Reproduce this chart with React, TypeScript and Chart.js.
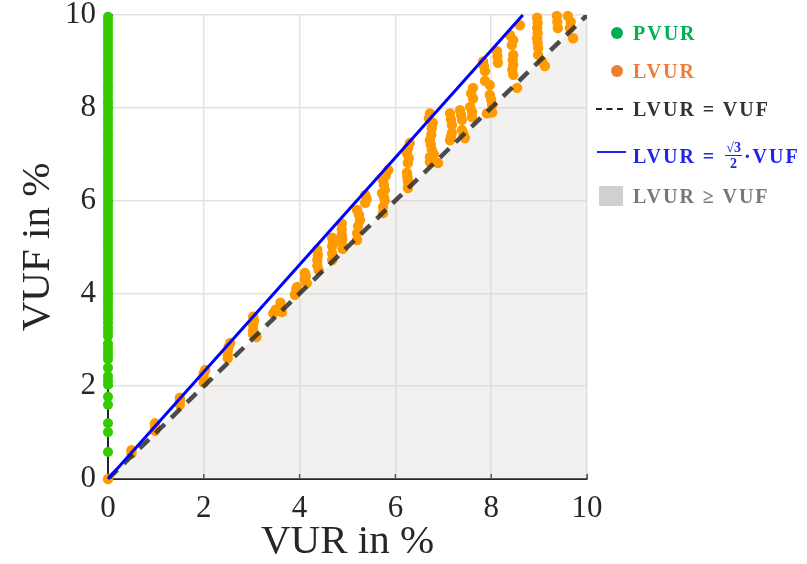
import React, { useEffect, useRef } from 'react';
import { Chart, registerables } from 'chart.js';

Chart.register(...registerables);

// ---------- data ----------
const X_TICKS = [0, 2, 4, 6, 8, 10];
const Y_TICKS = [0, 2, 4, 6, 8, 10];

// PVUR (VUR = 0) values of VUF in %
const pvurY = [
  0.58, 1.01, 1.2, 1.6, 1.77, 2.03, 2.12, 2.22, 2.4, 2.58, 2.66, 2.74, 2.83, 2.92,
  3.08, 3.17, 3.26, 3.36, 3.45, 3.52, 3.6, 3.68, 3.77, 3.85, 3.93, 4.02, 4.1, 4.19,
  4.27, 4.36, 4.44, 4.52, 4.61, 4.7, 4.78, 4.86, 4.95, 5.04, 5.12, 5.21, 5.29, 5.38,
  5.46, 5.55, 5.63, 5.72, 5.8, 5.89, 5.97, 6.06, 6.14, 6.23, 6.31, 6.4, 6.48, 6.57,
  6.65, 6.74, 6.82, 6.91, 6.99, 7.08, 7.16, 7.25, 7.33, 7.42, 7.5, 7.59, 7.67, 7.76,
  7.84, 7.93, 8.01, 8.1, 8.18, 8.27, 8.35, 8.44, 8.52, 8.61, 8.69, 8.78, 8.86, 8.95,
  9.03, 9.12, 9.2, 9.29, 9.37, 9.46, 9.54, 9.63, 9.71, 9.8, 9.88, 9.96,
];

// LVUR points: VUR (x) and VUF (y) in %
const lvurX = [
  0,
  0.49, 0.49,
  0.98, 0.98, 0.98,
  1.5, 1.5, 1.5,
  2.0, 2.0, 2.0, 2.03,
  2.5, 2.5, 2.5, 2.55, 2.52,
  3.03, 3.03, 3.03, 3.03, 3.1, 3.05,
  3.45, 3.6, 3.6, 3.63, 3.5,
  3.9, 3.95, 3.95, 3.93,
  4.11, 4.11, 4.15, 4.13,
  4.37, 4.37, 4.37, 4.4, 4.38,
  4.68, 4.68, 4.68, 4.68, 4.7,
  4.88, 4.88, 4.88, 4.9, 4.89, 4.88,
  5.2, 5.2, 5.22, 5.26, 5.2, 5.24,
  5.37, 5.37, 5.4,
  5.74, 5.74, 5.78, 5.72, 5.78, 5.74, 5.85, 5.76, 5.76, 5.8,
  6.26, 6.26, 6.24, 6.26, 6.24, 6.3, 6.27, 6.25, 6.28, 6.26,
  6.72, 6.72, 6.76, 6.72, 6.76, 6.72, 6.89, 6.8, 6.74, 6.75, 6.78, 6.7,
  7.14, 7.18, 7.18, 7.14, 7.16, 7.16,
  7.45, 7.39, 7.39, 7.35, 7.42, 7.37,
  7.6, 7.56, 7.62, 7.62, 7.6, 7.58,
  7.83, 7.87, 7.87, 7.85,
  7.91, 8.02, 8.02, 7.97, 7.97, 8.0,
  8.12, 8.14, 8.13,
  8.54, 8.46, 8.46, 8.46, 8.43, 8.39, 8.6, 8.44, 8.45, 8.46,
  9.12, 9.06, 8.98, 8.98, 8.96, 8.96, 8.96, 8.97, 8.97, 8.97,
  9.37, 9.39, 9.38,
  9.71, 9.64, 9.6, 9.66,
];
const lvurY = [
  0,
  0.55, 0.62,
  1.04, 1.12, 1.2,
  1.6, 1.68, 1.75,
  2.08, 2.17, 2.28, 2.35,
  2.6, 2.67, 2.76, 2.93, 2.85,
  3.12, 3.2, 3.32, 3.5, 3.06, 3.41,
  3.57, 3.7, 3.8, 3.6, 3.65,
  3.97, 4.06, 4.14, 4.1,
  4.3, 4.44, 4.22, 4.37,
  4.6, 4.72, 4.94, 4.5, 4.83,
  4.72, 4.86, 5.02, 5.2, 5.1,
  5.08, 5.26, 5.5, 4.96, 5.17, 5.38,
  5.15, 5.3, 5.45, 5.58, 5.8, 5.69,
  5.95, 6.12, 6.04,
  5.73, 5.86, 6.0, 6.16, 6.23, 6.44, 6.66, 6.08, 6.34, 6.54,
  6.27, 6.44, 6.6, 6.81, 7.02, 7.24, 6.36, 6.52, 6.92, 7.13,
  6.83, 6.94, 7.09, 7.3, 7.56, 7.88, 6.81, 7.0, 7.2, 7.42, 7.68, 7.77,
  7.3, 7.46, 7.63, 7.88, 7.38, 7.75,
  7.35, 7.52, 7.74, 7.95, 7.44, 7.85,
  7.8, 8.02, 8.2, 8.43, 7.91, 8.31,
  9.0, 8.79, 8.58, 8.9,
  7.88, 8.06, 7.9, 8.28, 8.49, 8.17,
  9.22, 8.97, 9.1,
  8.43, 8.71, 8.92, 9.14, 9.35, 9.57, 9.78, 8.82, 9.03, 9.46,
  8.9, 9.0, 9.14, 9.29, 9.5, 9.72, 9.94, 9.4, 9.61, 9.83,
  9.98, 9.72, 9.85,
  9.5, 9.72, 9.98, 9.85,
];

// reference lines
const equalX = [0, 10];
const equalY = [0, 10];
const sqrtX = [0, 8.66];
const sqrtY = [0, 10];

const SERIF = '"Liberation Serif", "Times New Roman", serif';

export default function App() {
  const ref = useRef<HTMLCanvasElement>(null);

  useEffect(() => {
    const canvas = ref.current;
    if (!canvas) return;

    const tickMarks = {
      id: 'tickMarks',
      beforeDatasetsDraw(chart: any) {
        const { ctx, chartArea, scales } = chart;
        const x = scales.x;
        const y = scales.y;
        ctx.save();
        ctx.strokeStyle = '#262626';
        ctx.lineWidth = 1.5;
        X_TICKS.forEach((v) => {
          const px = x.getPixelForValue(v);
          ctx.beginPath();
          ctx.moveTo(px, chartArea.bottom);
          ctx.lineTo(px, chartArea.bottom - 5);
          ctx.stroke();
        });
        Y_TICKS.forEach((v) => {
          const py = y.getPixelForValue(v);
          ctx.beginPath();
          ctx.moveTo(chartArea.left, py);
          ctx.lineTo(chartArea.left + 5, py);
          ctx.stroke();
        });
        ctx.restore();
      },
    };

    const toPts = (xs: number[], ys: number[]) => xs.map((v, i) => ({ x: v, y: ys[i] }));

    const chart = new Chart(canvas, {
      type: 'scatter',
      data: {
        datasets: [
          {
            label: 'LVUR = √3/2 · VUF',
            type: 'line',
            data: toPts(sqrtX, sqrtY),
            borderColor: '#0000ff',
            borderWidth: 3,
            pointRadius: 0,
            fill: false,
            order: 0,
            clip: false as any,
          },
          {
            label: 'LVUR = VUF',
            type: 'line',
            data: toPts(equalX, equalY),
            borderColor: 'rgba(45,45,45,0.85)',
            borderWidth: 4.5,
            borderDash: [13, 9],
            pointRadius: 0,
            fill: false,
            order: 1,
          },
          {
            label: 'PVUR',
            data: pvurY.map((v) => ({ x: 0, y: v })),
            backgroundColor: '#33cc00',
            borderWidth: 0,
            pointRadius: 5,
            order: 2,
            clip: false as any,
          },
          {
            label: 'LVUR',
            data: toPts(lvurX, lvurY),
            backgroundColor: '#ff9a00',
            borderWidth: 0,
            pointRadius: 5.2,
            order: 3,
            clip: false as any,
          },
          {
            label: 'LVUR ≥ VUF',
            type: 'line',
            data: toPts(equalX, equalY),
            borderWidth: 0,
            pointRadius: 0,
            backgroundColor: 'rgba(214,208,202,0.3)',
            fill: 'origin',
            order: 4,
          },
        ],
      },
      options: {
        animation: false,
        responsive: false,
        layout: { padding: { top: 15, right: 220, bottom: 0, left: 0 } },
        plugins: { legend: { display: false }, tooltip: { enabled: false } },
        scales: {
          x: {
            type: 'linear',
            min: 0,
            max: 10,
            afterFit: (s: any) => {
              s.height = 85;
              s.paddingLeft = 0;
              s.paddingRight = 0;
              s.paddingTop = 0;
              s.paddingBottom = 0;
            },
            ticks: {
              stepSize: 2,
              padding: 11,
              color: '#262626',
              maxRotation: 0,
              font: { family: SERIF, size: 31 },
            },
            grid: { color: '#e2e2e2', lineWidth: 1.5, drawTicks: false, tickLength: 0 },
            border: { color: '#262626', width: 2 },
            title: {
              display: true,
              text: 'VUR in %',
              color: '#262626',
              font: { family: SERIF, size: 41, lineHeight: 1.05 },
              padding: { top: 0, bottom: 0 },
            },
          },
          y: {
            type: 'linear',
            min: 0,
            max: 10,
            afterFit: (s: any) => {
              s.width = 108;
              s.paddingLeft = 0;
              s.paddingRight = 0;
              s.paddingTop = 0;
              s.paddingBottom = 0;
            },
            ticks: {
              stepSize: 2,
              padding: 12,
              color: '#262626',
              font: { family: SERIF, size: 31 },
            },
            grid: { color: '#e2e2e2', lineWidth: 1.5, drawTicks: false, tickLength: 0 },
            border: { color: '#262626', width: 2 },
            title: {
              display: true,
              text: 'VUF in %',
              color: '#262626',
              font: { family: SERIF, size: 41, lineHeight: 1.05 },
              padding: { top: 17, bottom: 0 },
            },
          },
        },
      },
      plugins: [tickMarks],
    } as any);

    return () => chart.destroy();
  }, []);

  const legText: React.CSSProperties = {
    position: 'absolute',
    left: 633,
    fontFamily: SERIF,
    fontWeight: 'bold',
    fontSize: 20,
    lineHeight: '24px',
    letterSpacing: '2px',
    whiteSpace: 'nowrap',
  };

  return (
    <div style={{ position: 'fixed', left: 0, top: 0, width: 807, height: 564, background: '#ffffff' }}>
      <canvas ref={ref} width={807} height={564} style={{ display: 'block' }} />
      {/* legend */}
      <div style={{ position: 'absolute', left: 611, top: 27, width: 12, height: 12, borderRadius: 6, background: '#00b050' }} />
      <div style={{ ...legText, top: 21, color: '#00b050' }}>PVUR</div>

      <div style={{ position: 'absolute', left: 611, top: 65, width: 12, height: 12, borderRadius: 6, background: '#ef7d35' }} />
      <div style={{ ...legText, top: 59, color: '#ef7d35' }}>LVUR</div>

      <div style={{ position: 'absolute', left: 596, top: 108, width: 27, height: 0, borderTop: '2px dashed #222' }} />
      <div style={{ ...legText, top: 97, color: '#333333' }}>LVUR = VUF</div>

      <div style={{ position: 'absolute', left: 597, top: 151, width: 29, height: 2, background: '#2222ee' }} />
      <div style={{ ...legText, top: 140, color: '#2222ee', display: 'flex', alignItems: 'center' }}>
        <span>LVUR =&nbsp;</span>
        <span style={{ display: 'inline-flex', flexDirection: 'column', alignItems: 'center', fontSize: 14, lineHeight: '15px', letterSpacing: 0, margin: '0 2px' }}>
          <span style={{ borderBottom: '1.5px solid #2222ee', padding: '0 1px' }}>√3</span>
          <span>2</span>
        </span>
        <span>·VUF</span>
      </div>

      <div style={{ position: 'absolute', left: 599, top: 186, width: 24, height: 20, background: '#d0d0d0' }} />
      <div style={{ ...legText, top: 184, color: '#777777' }}>LVUR ≥ VUF</div>
    </div>
  );
}
